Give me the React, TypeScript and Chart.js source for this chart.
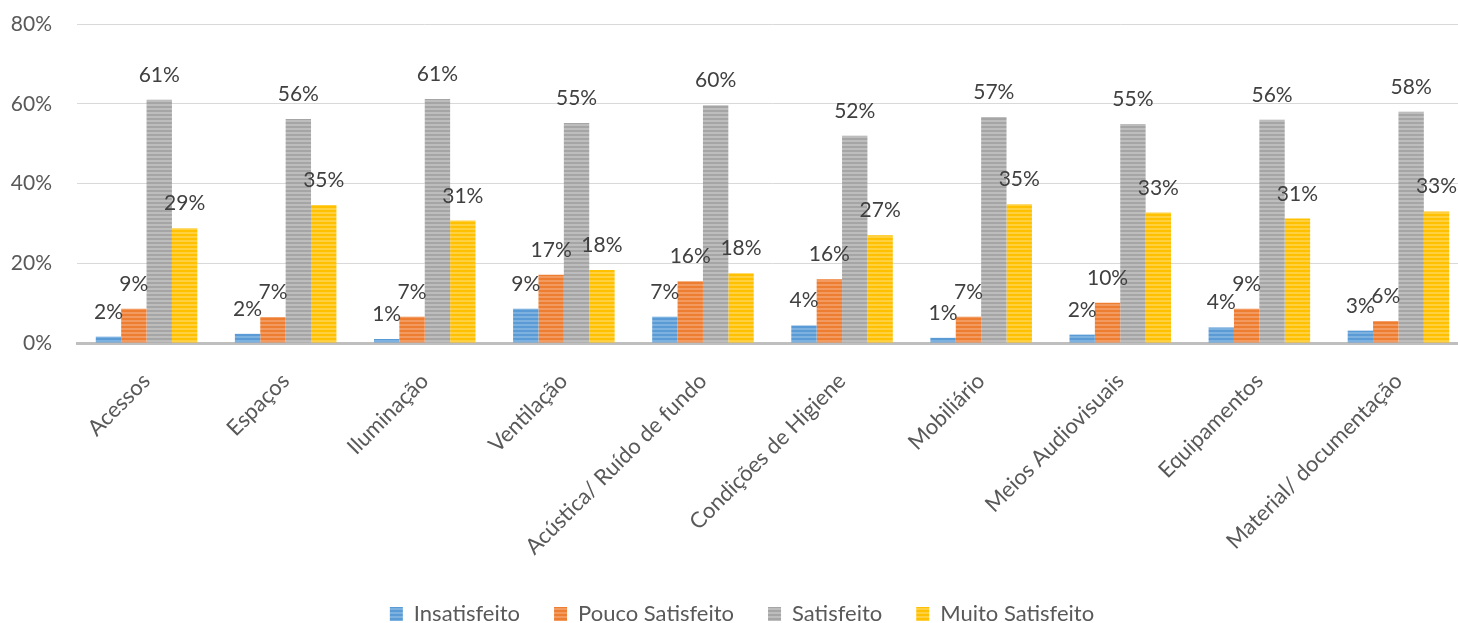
import React, { useEffect, useRef } from "react";
import { Chart, registerables } from "chart.js";

Chart.register(...registerables);

const categories = [
  "Acessos",
  "Espaços",
  "Iluminação",
  "Ventilação",
  "Acústica/ Ruído de fundo",
  "Condições de Higiene",
  "Mobiliário",
  "Meios Audiovisuais",
  "Equipamentos",
  "Material/ documentação",
];

const insatisfeito = [1.6, 2.3, 1.0, 8.6, 6.6, 4.4, 1.3, 2.1, 3.9, 3.1];
const poucoSatisfeito = [8.6, 6.5, 6.6, 17.1, 15.5, 16.0, 6.6, 10.1, 8.6, 5.5];
const satisfeito = [61.0, 56.2, 61.2, 55.2, 59.6, 52.0, 56.7, 54.9, 56.0, 58.0];
const muitoSatisfeito = [28.8, 34.6, 30.7, 18.3, 17.5, 27.0, 34.8, 32.7, 31.2, 33.0];

const seriesNames = ["Insatisfeito", "Pouco Satisfeito", "Satisfeito", "Muito Satisfeito"];
const yTicks = [0, 20, 40, 60, 80];

const FONT = "Lato, 'Open Sans', sans-serif";

function stripePattern(base: string, light: string): CanvasPattern | string {
  const c = document.createElement("canvas");
  c.width = 4;
  c.height = 4;
  const ctx = c.getContext("2d");
  if (!ctx) return base;
  ctx.fillStyle = base;
  ctx.fillRect(0, 0, 4, 4);
  ctx.fillStyle = light;
  ctx.fillRect(0, 0, 4, 2);
  const p = ctx.createPattern(c, "repeat");
  return p || base;
}

const labelPlugin = {
  id: "valueLabels",
  afterDatasetsDraw(chart: any) {
    const ctx = chart.ctx;
    ctx.save();
    ctx.font = `21px ${FONT}`;
    ctx.fillStyle = "#404040";
    ctx.textAlign = "center";
    ctx.textBaseline = "alphabetic";
    chart.data.datasets.forEach((ds: any, di: number) => {
      const meta = chart.getDatasetMeta(di);
      meta.data.forEach((el: any, i: number) => {
        const v = ds.data[i];
        ctx.fillText(Math.round(v) + "%", el.x, el.y - 18);
      });
    });
    ctx.restore();
  },
};

export default function App() {
  const ref = useRef<HTMLCanvasElement | null>(null);

  useEffect(() => {
    document.body.style.margin = "0";
    const canvas = ref.current;
    if (!canvas) return;
    const patterns = [
      stripePattern("#5b9bd5", "#7db1e0"),
      stripePattern("#ed7d31", "#f29a60"),
      stripePattern("#a5a5a5", "#bdbdbd"),
      stripePattern("#ffc000", "#ffd040"),
    ];
    const seriesData = [insatisfeito, poucoSatisfeito, satisfeito, muitoSatisfeito];
    const chart = new Chart(canvas, {
      type: "bar",
      data: {
        labels: categories,
        datasets: seriesNames.map((name, i) => ({
          label: name,
          data: seriesData[i],
          backgroundColor: patterns[i] as any,
          borderWidth: 0,
          categoryPercentage: 0.73,
          barPercentage: 1,
        })),
      },
      options: {
        animation: false,
        responsive: false,
        maintainAspectRatio: false,
        layout: { padding: { top: 24, right: 0, bottom: -12, left: 0 } },
        plugins: {
          tooltip: { enabled: false },
          legend: {
            position: "bottom",
            labels: {
              boxWidth: 13,
              boxHeight: 14,
              padding: 34,
              color: "#595959",
              font: { family: FONT, size: 22 },
            },
          },
        },
        scales: {
          x: {
            grid: { display: false, drawTicks: false },
            border: { display: true, color: "#bfbfbf", width: 3 },
            ticks: {
              color: "#595959",
              font: { family: FONT, size: 22 },
              minRotation: 45,
              maxRotation: 45,
              padding: 25,
              autoSkip: false,
            },
            afterFit(scale: any) {
              scale.height = 226;
            },
          },
          y: {
            min: 0,
            max: 80,
            afterBuildTicks(scale: any) {
              scale.ticks = yTicks.map((v) => ({ value: v }));
            },
            grid: {
              color: "#d9d9d9",
              drawTicks: true,
              tickLength: 22,
              tickColor: "rgba(0,0,0,0)",
              lineWidth: 1,
            },
            border: { display: false },
            ticks: {
              color: "#595959",
              font: { family: FONT, size: 21 },
              padding: 3,
              callback: (v: any) => v + "%",
            },
            afterFit(scale: any) {
              scale.width = 77;
            },
          },
          yRight: {
            position: "right",
            min: 0,
            max: 80,
            grid: { display: false, drawTicks: false },
            border: { display: false },
            ticks: { display: false },
            afterFit(scale: any) {
              scale.width = 16;
              scale.paddingTop = 0;
              scale.paddingBottom = 0;
            },
          },
        },
      },
      plugins: [labelPlugin],
    });
    return () => chart.destroy();
  }, []);

  return (
    <div style={{ width: 1458, height: 623, overflow: "hidden", position: "relative" }}>
      <canvas ref={ref} width={1484} height={623} style={{ display: "block", width: 1484, height: 623 }} />
    </div>
  );
}
